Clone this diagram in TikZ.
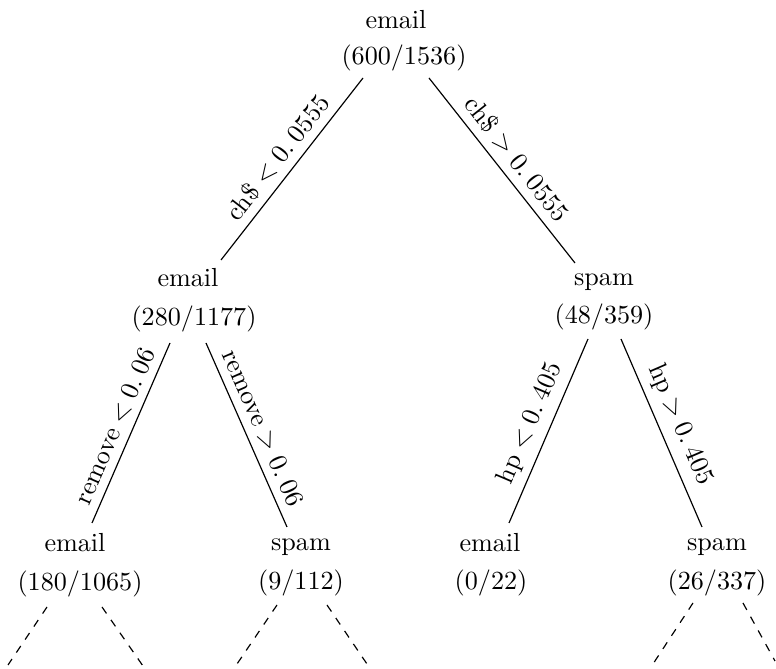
\documentclass[tikz,border=0pt]{standalone}
\usetikzlibrary{calc}
\begin{document}
\begin{tikzpicture}[x=0.3826pt,y=-0.3826pt,
  word/.style={anchor=base, inner sep=0pt},
  count/.style={anchor=base, inner sep=0pt},
  split/.style={draw=black, line width=0.45pt},
  rule/.style={midway, sloped, above, inner sep=3pt},
  stub/.style={draw=black, line width=0.45pt, dashed}]
\clip (0,0) rectangle (776,669);

% tree nodes: class label on top, counts below
\node[word]  (rootw) at (396,29)  {email};
\node[count] (rootc) at (404,65)  {(600/1536)};
\node[word]  (lw)    at (188,287) {email};
\node[count] (lc)    at (194,326) {(280/1177)};
\node[word]  (rw)    at (604,286) {spam};
\node[count] (rc)    at (604,324) {(48/359)};
\node[word]  (llw)   at (75,552)  {email};
\node[count] (llc)   at (80,591)  {(180/1065)};
\node[word]  (lrw)   at (301,551) {spam};
\node[count] (lrc)   at (301,590) {(9/112)};
\node[word]  (rlw)   at (490,552) {email};
\node[count] (rlc)   at (491,590) {(0/22)};
\node[word]  (rrw)   at (717,551) {spam};
\node[count] (rrc)   at (717,590) {(26/337)};

% splits
\draw[split] ($(rootc.base)+(-41,13)$) -- node[rule] {$\mathrm{ch}\$ < 0.\:0555$} ($(lw.base)+(33,-27)$);
\draw[split] ($(rootc.base)+(25,13)$) -- node[rule] {$\mathrm{ch}\$ > 0.\:0555$} ($(rw.base)+(-29,-23)$);
\draw[split] ($(lc.base)+(-24,17)$) -- node[rule] {$\mathrm{remove} < 0.\:06$} ($(llw.base)+(17,-29)$);
\draw[split] ($(lc.base)+(12,17)$) -- node[rule] {$\mathrm{remove} > 0.\:06$} ($(lrw.base)+(-14,-24)$);
\draw[split] ($(rc.base)+(-16,15)$) -- node[rule] {$\mathrm{hp} < 0.\:405$} ($(rlw.base)+(19,-29)$);
\draw[split] ($(rc.base)+(17,15)$) -- node[rule] {$\mathrm{hp} > 0.\:405$} ($(rrw.base)+(-15,-24)$);

% subtrees that continue below
\coordinate (lla) at (8,665);
\coordinate (llb) at (143,666);
\coordinate (lra) at (237,664);
\coordinate (lrb) at (367,664);
\coordinate (rra) at (653,664);
\coordinate (rrb) at (775,661);
\draw[stub] ($(llc.base)+(-33,16)$) -- (lla);
\draw[stub] ($(llc.base)+(22,16)$) -- (llb);
\draw[stub] ($(lrc.base)+(-24,15)$) -- (lra);
\draw[stub] ($(lrc.base)+(26,15)$) -- (lrb);
\draw[stub] ($(rrc.base)+(-24,13)$) -- (rra);
\draw[stub] ($(rrc.base)+(26,13)$) -- (rrb);
\end{tikzpicture}
\end{document}
